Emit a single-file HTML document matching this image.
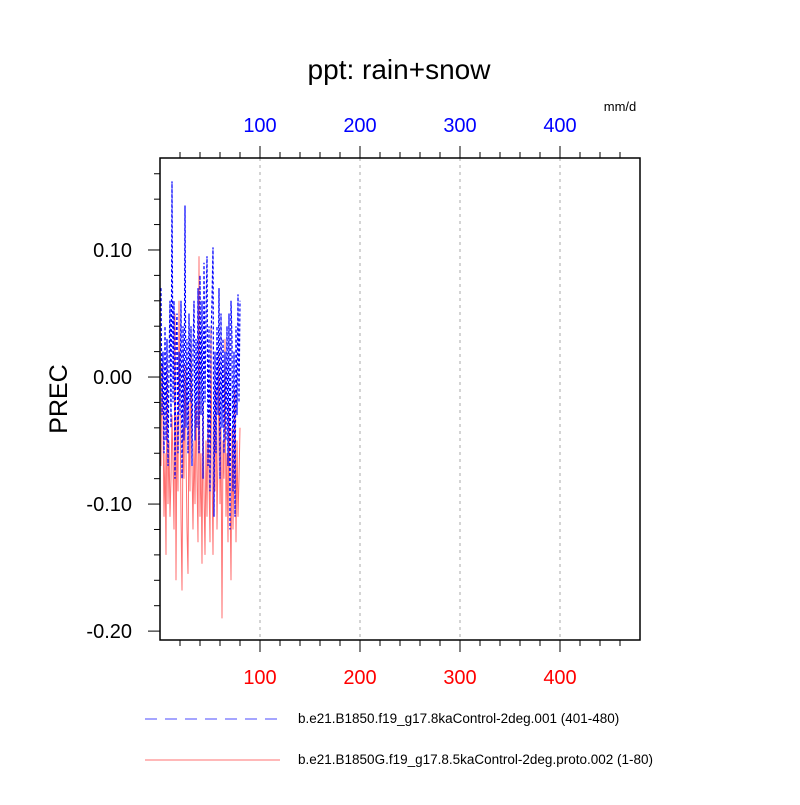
<!DOCTYPE html>
<html><head><meta charset="utf-8"><style>body{margin:0;background:#fff}svg{font-family:"Liberation Sans",sans-serif}</style></head>
<body>
<svg id="c" width="800" height="800" xmlns="http://www.w3.org/2000/svg"></svg>
<script>
const blueVals=[0.07,-0.03,0.02,-0.06,0.04,-0.05,0.03,-0.07,0.01,0.06,-0.04,0.154,-0.02,0.06,-0.08,0.03,0.05,-0.06,0.02,-0.03,0.06,-0.08,0.04,-0.05,0.135,-0.04,0.03,-0.06,0.05,-0.02,0.04,-0.07,0.02,0.06,-0.05,0.03,-0.04,0.07,-0.06,0.08,-0.03,0.06,-0.08,0.09,-0.02,0.05,0.095,-0.07,0.04,-0.09,0.03,0.06,0.102,-0.11,0.02,-0.06,0.04,-0.03,0.07,-0.08,0.05,-0.04,0.03,-0.06,0.02,-0.05,0.04,-0.07,0.05,-0.12,0.06,0.03,-0.09,0.02,-0.11,0.04,-0.03,0.065,-0.02,0.06];
const redVals=[-0.07,0.01,-0.03,-0.11,-0.06,-0.14,0.02,-0.10,-0.05,-0.11,-0.08,-0.03,-0.07,-0.12,0.05,-0.16,-0.03,-0.09,0.06,-0.02,-0.11,-0.168,-0.04,-0.08,0.01,-0.06,-0.12,-0.155,-0.02,-0.09,0.03,-0.07,-0.12,-0.05,-0.1,-0.02,-0.08,-0.13,0.095,-0.11,-0.06,-0.147,-0.02,-0.09,-0.14,-0.05,-0.11,-0.03,-0.08,-0.13,0.04,-0.07,-0.14,-0.03,-0.09,-0.01,-0.12,-0.06,0.02,-0.1,-0.04,-0.19,-0.05,-0.08,0.03,-0.11,-0.06,-0.13,-0.02,-0.09,-0.16,-0.04,-0.12,-0.07,-0.01,-0.13,-0.05,-0.11,-0.08,-0.04];
const xTicks=[100,200,300,400];
const yTicks=[0.10,0.00,-0.10,-0.20];
const yTickLabels=["0.10","0.00","-0.10","-0.20"];
const L=160,R=640,T=158,B=640;
const X0=0,X1=480,Y0=-0.207,Y1=0.1724;
const sx=v=>L+(v-X0)/(X1-X0)*(R-L);
const sy=v=>B-(v-Y0)/(Y1-Y0)*(B-T);
const svg=document.getElementById('c');
const NS='http://www.w3.org/2000/svg';
function mk(tag,attrs,name,parent){const e=document.createElementNS(NS,tag);for(const k in attrs)e.setAttribute(k,attrs[k]);


(parent||svg).appendChild(e);return e;}
function txt(x,y,s,size,fill,anchor,name){const t=mk('text',{x:x,y:y,'font-size':size,fill:fill,'text-anchor':anchor},name);t.textContent=s;return t;}
txt(399,79,'ppt: rain+snow',28,'#000','middle','chart-title');
txt(620,111,'mm/d',13,'#000','middle','units-label');
xTicks.forEach(v=>mk('line',{x1:sx(v),x2:sx(v),y1:T,y2:B,stroke:'#aaa','stroke-dasharray':'3,4','stroke-width':1},'grid-line'));
for(let v=20;v<480;v+=20){const maj=v%100===0;const l=maj?12:6;
mk('line',{x1:sx(v),x2:sx(v),y1:T,y2:T-l,stroke:'#000','stroke-width':1},'x-tick-top');
mk('line',{x1:sx(v),x2:sx(v),y1:B,y2:B+l,stroke:'#000','stroke-width':1},'x-tick-bottom');}
xTicks.forEach(v=>{txt(sx(v),132,String(v),20,'#0000ff','middle','x-top-tick-label');txt(sx(v),684,String(v),20,'#ff0000','middle','x-bottom-tick-label');});
for(let i=-10;i<=8;i++){const v=i*0.02;const maj=i%5===0;const l=maj?12:6;
mk('line',{x1:L,x2:L-l,y1:sy(v),y2:sy(v),stroke:'#000','stroke-width':1},'y-tick');}
yTicks.forEach((v,i)=>txt(L-28,sy(v)+7,yTickLabels[i],20,'#000','end','y-tick-label'));
const yt=txt(0,0,'PREC',25,'#000','middle','y-axis-title');yt.setAttribute('transform','translate(67,399) rotate(-90)');
function path(vals){return vals.map((v,i)=>(i?'L':'M')+sx(i+1).toFixed(1)+','+sy(v).toFixed(1)).join('');}
mk('path',{d:path(redVals),fill:'none',stroke:'#ff7070','stroke-width':1},'red-series');
mk('path',{d:path(blueVals),fill:'none',stroke:'#0000ff','stroke-width':1.2,'stroke-dasharray':'3,2'},'blue-series');
mk('rect',{x:L,y:T,width:R-L,height:B-T,fill:'none',stroke:'#000','stroke-width':1.5},'plot-frame');
mk('line',{x1:145,x2:277,y1:719,y2:719,stroke:'#0000ff','stroke-width':1,'stroke-dasharray':'12,8','opacity':0.7},'legend-blue-line');
txt(298,723,'b.e21.B1850.f19_g17.8kaControl-2deg.001 (401-480)',13.5,'#000','start','legend-blue-text');
mk('line',{x1:145,x2:280,y1:760,y2:760,stroke:'#ff7070','stroke-width':1},'legend-red-line');
txt(298,764,'b.e21.B1850G.f19_g17.8.5kaControl-2deg.proto.002 (1-80)',13.5,'#000','start','legend-red-text');
</script>
</body></html>
